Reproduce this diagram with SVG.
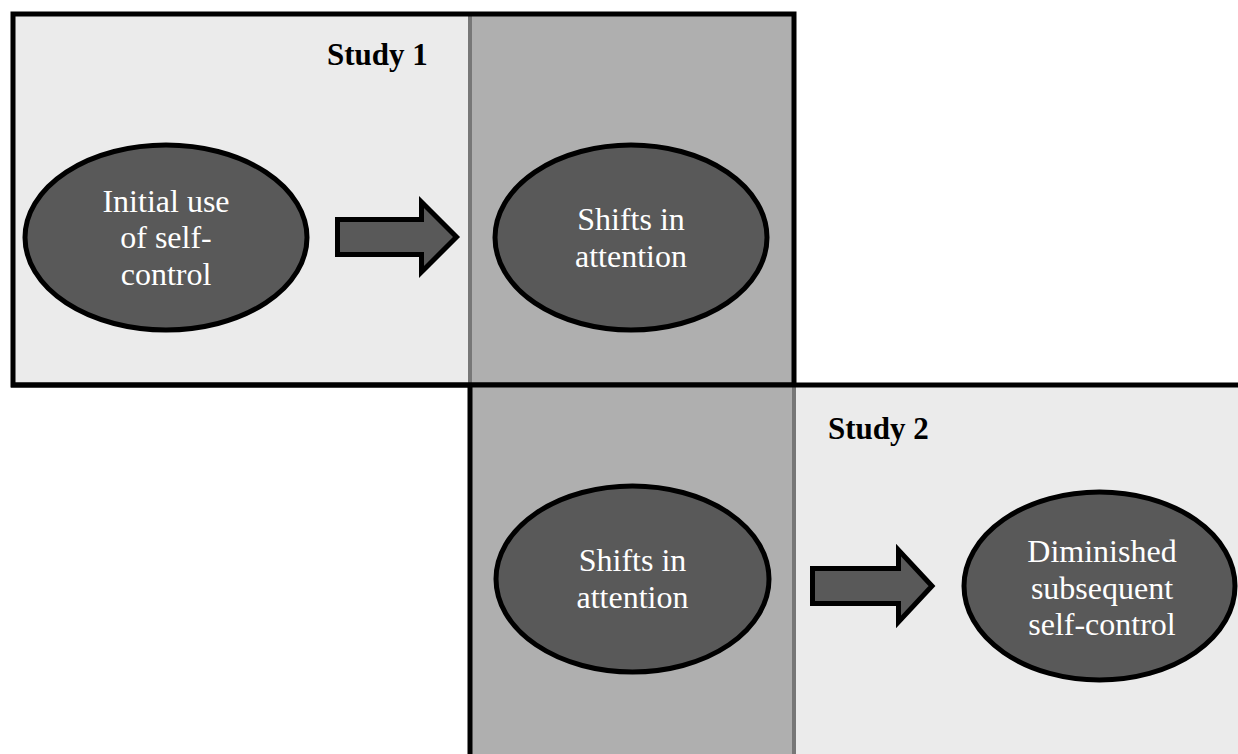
<svg xmlns="http://www.w3.org/2000/svg" width="1238" height="754" viewBox="0 0 1238 754">
<style>
.light{fill:#EBEBEB;stroke:none}
.band{fill:#AFAFAF;stroke:none}
.div{stroke:#777777;stroke-width:4;fill:none}
.border{stroke:#000000;stroke-width:5;fill:none}
.node{fill:#595959;stroke:#000000;stroke-width:5}
.lbl{font-family:"Liberation Serif","Times New Roman",serif;font-size:32px;fill:#FFFFFF;text-anchor:middle}
.title{font-family:"Liberation Serif","Times New Roman",serif;font-size:31px;font-weight:bold;fill:#000000}
.arrow{fill:#595959;stroke:#000000;stroke-width:5;stroke-linejoin:miter;stroke-miterlimit:10}
</style>
<g id="study1-panel">
<rect class="light" x="13" y="14" width="457" height="371"/>
<rect class="band" x="470" y="14" width="324" height="371"/>
<line class="div" x1="470" y1="14" x2="470" y2="385"/>
<rect class="border" x="13" y="14" width="781" height="371"/>
<text class="title" x="327" y="65">Study 1</text>
</g>
<g id="study2-panel">
<rect class="band" x="470" y="385" width="324" height="372"/>
<rect class="light" x="794" y="385" width="450" height="372"/>
<line class="div" x1="794" y1="385" x2="794" y2="757"/>
<line class="border" x1="470" y1="385" x2="470" y2="760"/>
<line class="border" x1="11" y1="385" x2="1245" y2="385"/>
<text class="title" x="828" y="439">Study 2</text>
</g>
<g id="node-initial">
<ellipse class="node" cx="166" cy="237.5" rx="141" ry="92.5"/>
<text class="lbl" x="166" y="212">Initial use</text>
<text class="lbl" x="166" y="248">of self-</text>
<text class="lbl" x="166" y="285">control</text>
</g>
<g id="node-shifts1">
<ellipse class="node" cx="631" cy="237.5" rx="136" ry="92.5"/>
<text class="lbl" x="631" y="230">Shifts in</text>
<text class="lbl" x="631" y="267">attention</text>
</g>
<g id="node-shifts2">
<ellipse class="node" cx="632.5" cy="579" rx="136.5" ry="93"/>
<text class="lbl" x="632.5" y="571">Shifts in</text>
<text class="lbl" x="632.5" y="608">attention</text>
</g>
<g id="node-diminished">
<ellipse class="node" cx="1099.5" cy="586" rx="135.5" ry="94"/>
<text class="lbl" x="1102" y="562">Diminished</text>
<text class="lbl" x="1102" y="599">subsequent</text>
<text class="lbl" x="1102" y="635">self-control</text>
</g>
<g id="connectors">
<path class="arrow" d="M337.5,219.5 H421.5 V202 L456.5,237 L421.5,272 V254.5 H337.5 Z"/>
<path class="arrow" d="M812.5,568.5 H898.5 V550 L932,586 L898.5,622 V603.5 H812.5 Z"/>
</g>
</svg>
